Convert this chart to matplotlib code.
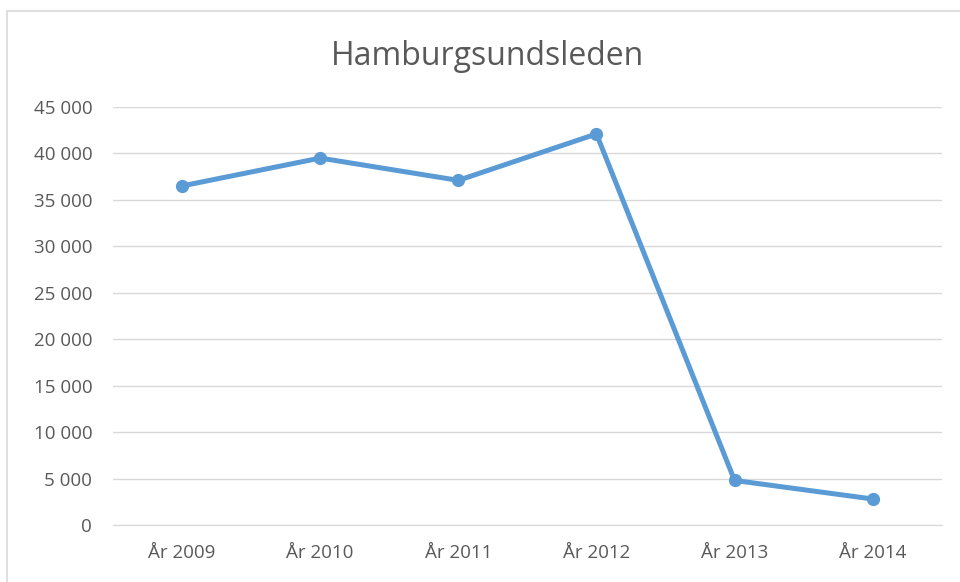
import matplotlib
matplotlib.use("Agg")
import matplotlib.pyplot as plt
from matplotlib.ticker import FuncFormatter, MultipleLocator

years = ["År 2009", "År 2010", "År 2011", "År 2012", "År 2013", "År 2014"]
values = [36500, 39500, 37100, 42100, 4800, 2800]

plt.rcParams["font.family"] = ["Open Sans", "DejaVu Sans"]

fig = plt.figure(figsize=(9.6, 5.82), dpi=100)
ax = fig.add_axes([0.1177, 0.0979, 0.8633, 0.7183])

x = list(range(len(years)))
ax.plot(x, values, color="#5B9BD5", linewidth=3.6, marker="o", markersize=8.5,
        solid_capstyle="round", solid_joinstyle="round", zorder=3)

ax.set_xlim(-0.5, len(years) - 0.5)
ax.set_ylim(0, 45000)
ax.yaxis.set_major_locator(MultipleLocator(5000))
ax.yaxis.set_major_formatter(FuncFormatter(lambda v, p: f"{int(v):,}".replace(",", " ")))
ax.set_xticks(x)
ax.set_xticklabels(years)
ax.grid(axis="y", color="#D9D9D9", linewidth=1)
ax.set_axisbelow(True)
for s in ["top", "right", "left"]:
    ax.spines[s].set_visible(False)
ax.spines["bottom"].set_color("#D9D9D9")
ax.tick_params(axis="both", length=0, labelsize=13.5, labelcolor="#595959")
ax.tick_params(axis="x", pad=14)
ax.tick_params(axis="y", pad=15)

fig.text(0.508, 0.888, "Hamburgsundsleden", ha="center", va="baseline", fontsize=23, color="#595959")

# chart border
fig.add_artist(plt.Rectangle((0.0073, -0.01), 1.0, 0.991, transform=fig.transFigure,
                             fill=False, edgecolor="#D9D9D9", linewidth=1.2))

fig.savefig("out.png", dpi=100)
